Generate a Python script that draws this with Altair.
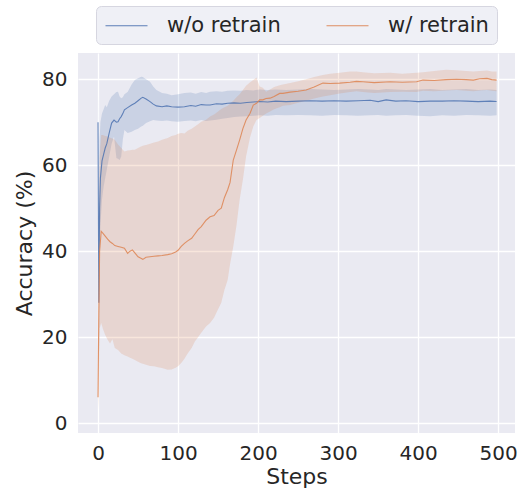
import altair as alt
import pandas as pd

series_names = ["w/o retrain", "w/ retrain"]
colors = ["#4c72b0", "#dd8452"]

blue_steps = [0, 1, 2, 3, 5, 7, 9, 11, 14, 17, 20, 23, 25, 27, 29, 31, 33, 37, 42, 46, 50, 54, 56, 60, 65, 69, 73,
              80, 86, 92, 100, 108, 116, 122, 129, 135, 140, 148, 155, 162, 170, 178, 186, 194, 202, 212, 222, 235,
              250, 265, 280, 295, 310, 325, 340, 350, 360, 372, 385, 400, 415, 430, 445, 460, 475, 490, 498]
blue_mean = [70, 28, 50, 57, 61, 62.5, 64, 65, 67.5, 69.8, 70.5, 70, 70.1, 70.8, 71.3, 72, 72.9, 73.4, 74, 74.4, 75,
             75.6, 75.8, 75.4, 74.8, 74.2, 73.8, 73.6, 73.8, 73.6, 73.5, 73.6, 73.9, 73.7, 74.1, 74.0, 74.0, 74.3,
             74.2, 74.4, 74.5, 74.4, 74.6, 74.7, 74.8, 74.7, 74.9, 74.8, 74.9, 75.0, 74.9, 75.0, 74.9, 75.0, 75.1,
             74.8, 75.2, 74.9, 75.0, 74.8, 74.9, 74.9, 75.0, 74.9, 74.8, 74.9, 74.8]
blue_lo = [63, 10, 35, 46, 52, 55, 57, 59, 62, 65, 66.7, 61.7, 61.5, 61.2, 62, 66, 68.2, 67.5, 67.8, 68.2, 68.5, 69,
           69.2, 69.8, 70.2, 70.5, 70.4, 70.3, 70.4, 70.2, 70.1, 70.3, 70.4, 70.2, 70.5, 70.3, 70.4, 70.6, 70.8, 71,
           71.2, 71.3, 71.4, 71.5, 71.6, 71.5, 71.7, 71.6, 71.7, 71.6, 71.5, 71.7, 71.6, 71.5, 71.6, 71.7, 71.5,
           71.6, 71.7, 71.5, 71.4, 71.6, 71.5, 71.7, 71.6, 71.5, 71.6]
blue_hi = [77, 48, 66, 70, 72, 73, 74, 73.5, 75, 76, 76.5, 77, 77.1, 76, 75.6, 75.8, 76.5, 77, 78.8, 79.8, 80.2, 80.6,
           80.5, 80, 79.4, 78.3, 77.5, 76.8, 76.6, 76.3, 76.5, 76.8, 76.9, 76.6, 77, 76.8, 77.1, 77.2, 77.1, 77.3,
           77.4, 77.3, 77.5, 77.4, 77.6, 77.5, 77.6, 77.5, 77.6, 77.7, 77.6, 77.5, 77.6, 77.7, 77.6, 77.5, 77.7,
           77.6, 77.5, 77.6, 77.7, 77.5, 77.6, 77.7, 77.5, 77.6, 77.5]

orange_steps = [0, 1, 2, 4, 6, 9, 12, 15, 18, 21, 25, 29, 33, 37, 40, 43, 46, 50, 53, 56, 60, 65, 70, 75, 80, 87, 92,
                97, 100, 104, 108, 112, 117, 121, 125, 129, 135, 140, 145, 150, 154, 158, 162, 165, 169, 173, 177,
                181, 185, 190, 194, 198, 202, 206, 210, 215, 220, 227, 231, 240, 250, 260, 270, 281, 290, 302, 315,
                323, 331, 345, 365, 380, 398, 406, 420, 435, 448, 460, 469, 477, 486, 492, 498]
orange_mean = [6, 25, 40, 44.6, 44.2, 43.5, 42.8, 42.2, 41.8, 41.3, 41.1, 40.9, 40.7, 39.5, 40.0, 40.3, 39.6, 38.7,
               38.4, 38.1, 38.6, 38.7, 38.8, 38.9, 39.0, 39.2, 39.4, 39.8, 40.2, 41.1, 41.8, 42.4, 43.0, 44.0, 45.0,
               45.7, 47.2, 48.0, 48.3, 49.5, 50.0, 52.5, 54.3, 56, 61.2, 63.5, 65.9, 68.5, 70.5, 72.1, 74.0, 74.4,
               75.2, 75.2, 75.5, 75.6, 76.0, 76.7, 76.7, 77.0, 77.2, 77.5, 78.2, 79.1, 79.0, 79.1, 79.3, 79.5, 79.4,
               79.2, 79.4, 79.3, 79.4, 79.8, 79.7, 79.9, 80.0, 79.9, 79.8, 80.1, 80.2, 79.9, 79.8]
orange_lo = [3, 8, 22, 23.3, 22, 20.5, 19.4, 18.5, 19.5, 17.5, 17, 16.2, 15.8, 15.5, 15.2, 15.0, 14.7, 14.3, 14,
             13.8, 13.6, 13.3, 13.2, 13.0, 12.8, 12.4, 12.5, 12.9, 13.2, 14, 15, 16.2, 17.5, 19, 20, 21, 22.5, 23.3,
             24.5, 26.5, 28, 31, 33.3, 37, 41.1, 46, 52, 56.6, 62, 66.5, 69, 70.5, 71, 71.5, 72, 72.5, 73, 73.5,
             73.8, 74, 74.5, 75, 75.5, 76, 76.3, 76.7, 77, 77.2, 77, 76.8, 77, 77.1, 77, 77.3, 77.2, 77.4, 77.5,
             77.3, 77.2, 77.4, 77.5, 77.3, 77.2]
orange_hi = [10, 45, 62, 67, 67, 66.8, 66.7, 66.4, 66.2, 65.9, 64.8, 64, 63.2, 63.4, 63.5, 63.6, 63.6, 64, 64.3,
             64.5, 64.7, 65, 65.3, 65.5, 65.9, 66.3, 66.8, 67, 67.3, 67.5, 67.4, 68, 68.5, 69, 69.5, 70.1, 70.6,
             71.3, 71.8, 72.5, 73.1, 73.5, 73.8, 74.3, 75, 75.8, 76.5, 77.5, 78.5, 79.3, 79.8, 80.4, 78.3, 78.0,
             77.1, 77.6, 78.2, 78.6, 78.8, 79.1, 79.5, 80, 80.5, 81, 81.3, 81.5, 81.8, 81.8, 81.6, 81.4, 81.5, 81.3,
             81.5, 81.6, 81.9, 82.2, 82.1, 81.9, 81.8, 81.9, 82, 81.8, 81.8]

x_ticks = [0, 100, 200, 300, 400, 500]
y_ticks = [0, 20, 40, 60, 80]

frames = []
for name, st, mn, lo, hi in [
    (series_names[0], blue_steps, blue_mean, blue_lo, blue_hi),
    (series_names[1], orange_steps, orange_mean, orange_lo, orange_hi),
]:
    frames.append(pd.DataFrame({"series": name, "step": st, "mean": mn, "lo": lo, "hi": hi}))
df = pd.concat(frames, ignore_index=True)

FONT = "DejaVu Sans"
TXT = "#262626"

x_enc = alt.X("step:Q", scale=alt.Scale(domain=[-25, 521], nice=False, zero=False),
              axis=alt.Axis(values=x_ticks, title="Steps", labelPadding=10, titlePadding=3))
color_scale = alt.Scale(domain=series_names, range=colors)

legend = alt.Legend(orient="none", legendX=18, legendY=-47, direction="horizontal",
                    symbolType="M-2,0H2", symbolSize=441, symbolStrokeWidth=1.2, symbolOpacity=0.9,
                    symbolOffset=11,
                    labelFontSize=21, labelFont=FONT, labelColor=TXT,
                    labelOffset=29, columnPadding=43, padding=8,
                    fillColor="#eff0f6", strokeColor="#d6d6e0", cornerRadius=5)

band = alt.Chart(df).mark_area(opacity=0.2, interpolate="linear").encode(
    x=x_enc,
    y=alt.Y("lo:Q", scale=alt.Scale(domain=[-2.3, 86.1], nice=False, zero=False),
            axis=alt.Axis(values=y_ticks, title="Accuracy (%)", labelPadding=11, titlePadding=5)),
    y2="hi:Q",
    color=alt.Color("series:N", scale=color_scale, title=None, legend=legend),
)

line = alt.Chart(df).mark_line(strokeWidth=1.1, opacity=0.85).encode(
    x=x_enc,
    y=alt.Y("mean:Q"),
    color=alt.Color("series:N", scale=color_scale, title=None, legend=legend),
)

chart = alt.layer(band, line).properties(
    width=437, height=380,
    autosize=alt.AutoSizeParams(type="none"),
    padding={"left": 78, "top": 53, "right": 5, "bottom": 59},
    background="white",
).configure_view(
    fill="#eaeaf2", stroke=None,
).configure_axis(
    grid=True, gridColor="white", gridWidth=1.3, domain=False, ticks=False,
    labelFont=FONT, labelFontSize=20, labelColor=TXT,
    titleFont=FONT, titleFontSize=22, titleColor=TXT, titleFontWeight="normal",
)

chart.save("out.html", embed_options={"renderer": "svg", "actions": False})
